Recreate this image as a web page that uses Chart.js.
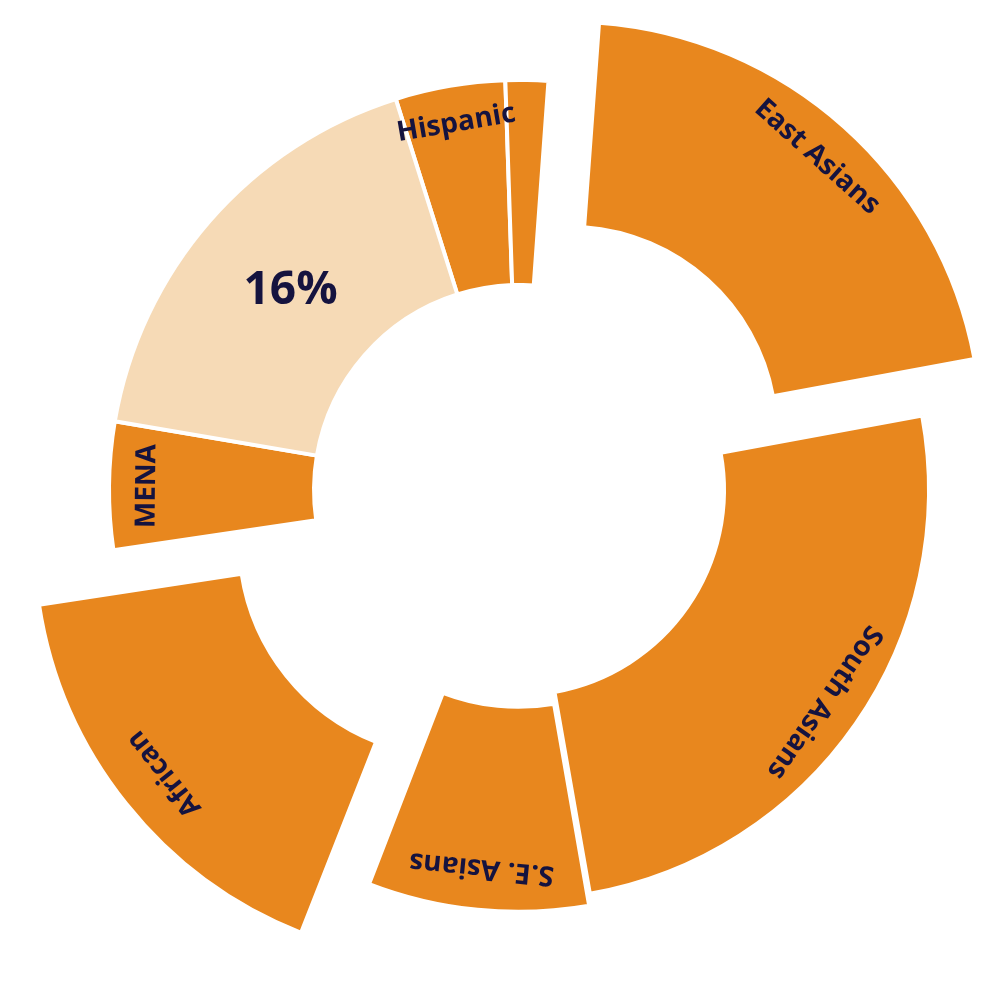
<!DOCTYPE html>
<html>
<head>
<meta charset="utf-8">
<script src="https://cdn.jsdelivr.net/npm/chart.js@4/dist/chart.umd.min.js"></script>
<style>
  html, body { margin: 0; padding: 0; background: #fff; }
  #wrap { width: 1000px; height: 1000px; }
</style>
</head>
<body>
<div id="wrap"><canvas id="c" width="1000" height="1000"></canvas></div>
<script>
// slice sizes (degrees of the ring)
const labels = ['Hispanic', '', 'East Asians', 'South Asians', 'S.E. Asians', 'African', 'MENA', '16%'];
const values = [15.5, 6, 75, 90, 31, 60, 18, 62.5];
const offsets = [0, 0, 75, 0, 8, 82, 0, 0];
const colors = ['#E8871E', '#E8871E', '#E8871E', '#E8871E', '#E8871E', '#E8871E', '#E8871E', '#F6DAB6'];

const sliceLabels = {
  id: 'sliceLabels',
  afterDatasetsDraw(chart) {
    const ctx = chart.ctx;
    const meta = chart.getDatasetMeta(0);
    meta.data.forEach((arc, i) => {
      const text = labels[i];
      if (!text) return;
      const p = arc.getProps(['x', 'y', 'startAngle', 'endAngle', 'outerRadius', 'innerRadius'], true);
      const mid = (p.startAngle + p.endAngle) / 2;
      const big = text === '16%';
      const r = (big ? 303 : 372) + offsets[i];
      const x = p.x + Math.cos(mid) * r;
      const y = p.y + Math.sin(mid) * r;
      ctx.save();
      ctx.translate(x, y);
      if (!big) ctx.rotate(mid + Math.PI / 2);
      ctx.fillStyle = '#15133f';
      ctx.font = big ? 'bold 46px "Open Sans"' : 'bold 28px "Open Sans"';
      ctx.textAlign = 'center';
      ctx.textBaseline = 'middle';
      ctx.fillText(text, 0, 0);
      ctx.restore();
    });
  }
};

new Chart(document.getElementById('c'), {
  type: 'doughnut',
  data: {
    labels: labels,
    datasets: [{
      data: values,
      backgroundColor: colors,
      borderColor: '#ffffff',
      borderWidth: 4,
      // Chart.js v4 moves an arc by a quarter of its offset
      offset: offsets.map(o => o * 4)
    }]
  },
  options: {
    responsive: false,
    animation: false,
    rotation: -17.5,
    radius: 410,
    cutout: '50%',
    layout: { padding: { left: 38, right: 0, top: 0, bottom: 20 } },
    plugins: { legend: { display: false }, tooltip: { enabled: false } }
  },
  plugins: [sliceLabels]
});
</script>
</body>
</html>
